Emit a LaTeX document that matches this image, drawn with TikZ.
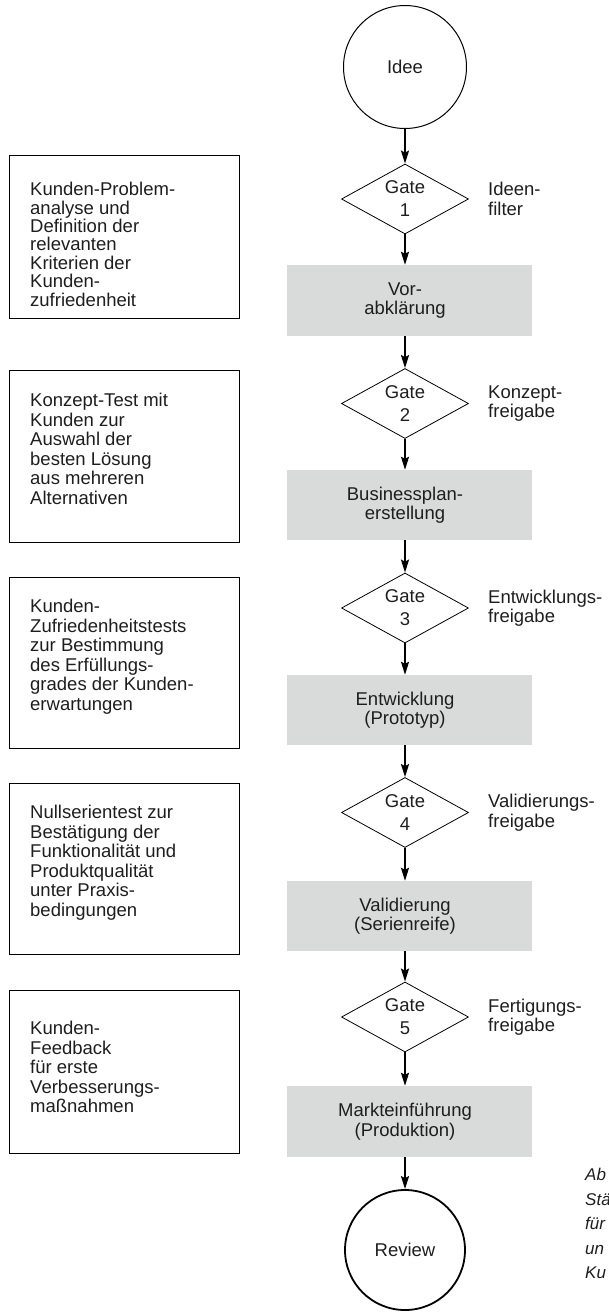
\documentclass[tikz,border=0pt]{standalone}
\usepackage{fontspec}
\setmainfont{Liberation Sans}
\usetikzlibrary{shapes.geometric,arrows.meta}
\definecolor{boxgray}{RGB}{217,219,219}
\definecolor{txt}{RGB}{30,30,30}
\begin{document}
\begin{tikzpicture}[x=1pt,y=-1pt,
  every node/.style={font=\fontsize{18.5}{19.5}\selectfont, text=txt},
  startend/.style={circle, draw, minimum size=123pt, inner sep=0},
  gate/.style={diamond, draw, line width=0.8pt, aspect=1.8, minimum width=127pt, minimum height=70pt, inner sep=0, align=center, font=\fontsize{18.5}{23}\selectfont},
  stage/.style={fill=boxgray, minimum width=245pt, minimum height=70pt, inner sep=0},
  stagetext/.style={align=center, inner sep=0},
  side/.style={draw, line width=0.9pt, minimum width=230pt, inner sep=0},
  sidetext/.style={anchor=north west, align=left, inner sep=0},
  gatelabel/.style={anchor=west, align=left, inner sep=0},
  flow/.style={line width=1.8pt, -{Stealth[length=13pt,width=8pt,inset=2pt]}},
]
\useasboundingbox (0,0) rectangle (609,1312);

% main column
\node[startend, line width=1pt] (idee) at (405,67) {Idee};
\node[gate] (d1) at (405,199) {Gate\\1};
\node[stage, minimum height=71pt] (b1) at (409.5,300.5) {};
\node[stagetext] (b1t) at (405,300.5) {Vor-\\abklärung};
\node[gate] (d2) at (405,403.5) {Gate\\2};
\node[stage] (b2) at (409.5,505) {};
\node[stagetext] (b2t) at (405,505) {Businessplan-\\erstellung};
\node[gate] (d3) at (405,608) {Gate\\3};
\node[stage] (b3) at (409.5,710) {};
\node[stagetext] (b3t) at (405,710) {Entwicklung\\(Prototyp)};
\node[gate] (d4) at (405,812.5) {Gate\\4};
\node[stage] (b4) at (409.5,916) {};
\node[stagetext] (b4t) at (405,916) {Validierung\\(Serienreife)};
\node[gate] (d5) at (405,1017) {Gate\\5};
\node[stage, minimum height=71pt] (b5) at (409.5,1121.5) {};
\node[stagetext] (b5t) at (405,1121.5) {Markteinführung\\(Produktion)};
\node[startend, line width=1.8pt, minimum size=120pt] (review) at (405,1250) {Review};

% gate labels
\node[gatelabel] (g1) at (488,199) {Ideen-\\filter};
\node[gatelabel] (g2) at (488,403.5) {Konzept-\\freigabe};
\node[gatelabel] (g3) at (488,608) {Entwicklungs-\\freigabe};
\node[gatelabel] (g4) at (488,812.5) {Validierungs-\\freigabe};
\node[gatelabel] (g5) at (488,1017) {Fertigungs-\\freigabe};

% connectors
\draw[flow] (idee) -- (d1);
\draw[flow] (d1) -- (d1.south |- b1.north);
\draw[flow] (b1.south -| d1) -- (d2);
\draw[flow] (d2) -- (d2.south |- b2.north);
\draw[flow] (b2.south -| d2) -- (d3);
\draw[flow] (d3) -- (d3.south |- b3.north);
\draw[flow] (b3.south -| d3) -- (d4);
\draw[flow] (d4) -- (d4.south |- b4.north);
\draw[flow] (b4.south -| d4) -- (d5);
\draw[flow] (d5) -- (d5.south |- b5.north);
\draw[flow] (b5.south -| d5) -- (review);

% side boxes
\node[side, minimum height=163pt] (L1) at (124,236.5) {};
\node[sidetext, font=\fontsize{18.5}{18.4}\selectfont] (L1t) at (30,182) {Kunden-Problem-\\analyse und\\Definition der\\relevanten\\Kriterien der\\Kunden-\\zufriedenheit};
\node[side, minimum height=172pt] (L2) at (124,456) {};
\node[sidetext] (L2t) at (30,393) {Konzept-Test mit\\Kunden zur\\Auswahl der\\besten Lösung\\aus mehreren\\Alternativen};
\node[side, minimum height=171pt] (L3) at (124,662.5) {};
\node[sidetext] (L3t) at (30,599) {Kunden-\\Zufriedenheitstests\\zur Bestimmung\\des Erfüllungs-\\grades der Kunden-\\erwartungen};
\node[side, minimum height=171pt] (L4) at (124,868.5) {};
\node[sidetext] (L4t) at (30,805) {Nullserientest zur\\Bestätigung der\\Funktionalität und\\Produktqualität\\unter Praxis-\\bedingungen};
\node[side, minimum height=163pt] (L5) at (124,1071.5) {};
\node[sidetext] (L5t) at (30,1021) {Kunden-\\Feedback\\für erste\\Verbesserungs-\\maßnahmen};

% caption (cut off at the right edge)
\node[anchor=north west, align=left, inner sep=0, font=\fontsize{17}{24.5}\selectfont\itshape] (cap) at (585,1168) {Ab\\Stä\\für\\un\\Ku};
\end{tikzpicture}
\end{document}
